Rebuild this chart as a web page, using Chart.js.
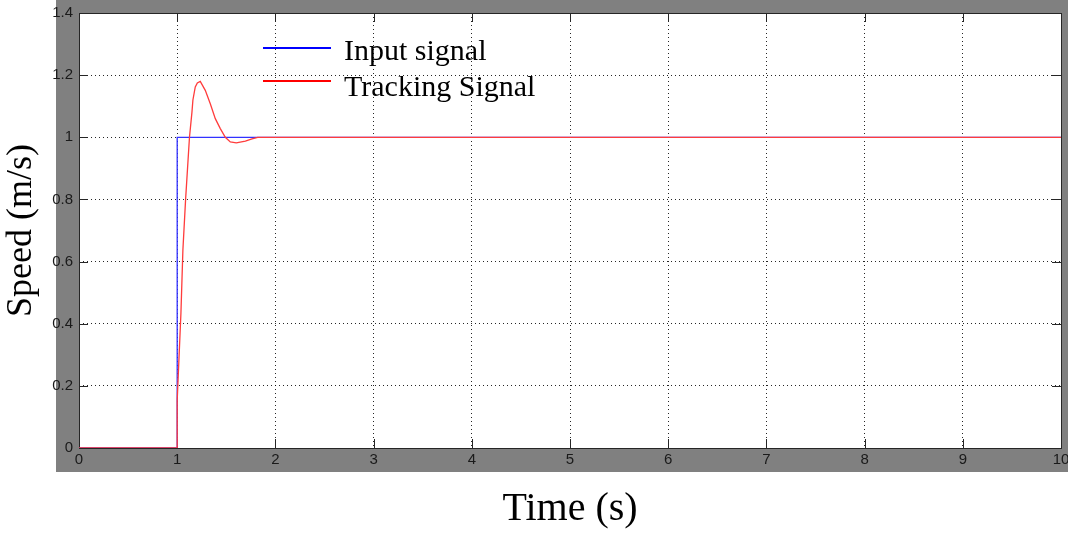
<!DOCTYPE html>
<html>
<head>
<meta charset="utf-8">
<script src="https://cdn.jsdelivr.net/npm/chart.js@4"></script>
<style>
  body { margin: 0; background: #fff; }
  #wrap { width: 1068px; height: 538px; }
</style>
</head>
<body>
<div id="wrap"><canvas id="speedChart" width="1068" height="538"></canvas></div>
<script>
// Input signal (step at t = 1 s)
const inputTime = [0, 1, 1, 10];
const inputSpeed = [0, 0, 1, 1];

// Tracking signal
const trackTime = [0, 1, 1, 1.013, 1.038, 1.058, 1.085, 1.125, 1.15, 1.16, 1.184, 1.205, 1.235, 1.286, 1.337, 1.388, 1.439, 1.49, 1.541, 1.602, 1.694, 1.762, 1.82, 10];
const trackSpeed = [0, 0, 0.154, 0.25, 0.434, 0.637, 0.797, 1.0, 1.08, 1.12, 1.162, 1.175, 1.18, 1.151, 1.108, 1.06, 1.028, 1.0, 0.985, 0.982, 0.988, 0.995, 1.0, 1.0];

const xTickLabels = ['0', '1', '2', '3', '4', '5', '6', '7', '8', '9', '10'];
const yTickLabels = ['0', '0.2', '0.4', '0.6', '0.8', '1', '1.2', '1.4'];

const toPoints = (xs, ys) => xs.map((x, i) => ({ x: x, y: ys[i] }));

// gray figure panel, white axes box, black frame with inward ticks
const framePlugin = {
  id: 'frame',
  beforeDraw(chart) {
    const { ctx, chartArea: a } = chart;
    ctx.save();
    ctx.fillStyle = '#fff';
    ctx.fillRect(0, 0, chart.width, chart.height);
    ctx.fillStyle = '#808080';
    ctx.fillRect(a.left - 23, 0, chart.width - a.left + 23, a.bottom + 24);
    ctx.fillStyle = '#fff';
    ctx.fillRect(a.left, a.top, a.right - a.left, a.bottom - a.top);
    ctx.restore();
  },
  beforeDatasetsDraw(chart) {
    const { ctx, chartArea: a, scales } = chart;
    const len = 9;
    ctx.save();
    ctx.strokeStyle = '#262626';
    ctx.lineWidth = 1;
    ctx.beginPath();
    scales.x.ticks.forEach(t => {
      const px = Math.round(scales.x.getPixelForValue(t.value)) + 0.5;
      ctx.moveTo(px, a.bottom); ctx.lineTo(px, a.bottom - len);
      ctx.moveTo(px, a.top); ctx.lineTo(px, a.top + len);
    });
    scales.y.ticks.forEach(t => {
      const py = Math.round(scales.y.getPixelForValue(t.value)) + 0.5;
      ctx.moveTo(a.left, py); ctx.lineTo(a.left + len, py);
      ctx.moveTo(a.right, py); ctx.lineTo(a.right - len, py);
    });
    ctx.stroke();
    ctx.strokeRect(Math.round(a.left) + 0.5, Math.round(a.top) + 0.5,
      Math.round(a.right - a.left), Math.round(a.bottom - a.top));
    ctx.restore();
  },
  afterDraw(chart) {
    // legend in the upper part of the axes
    const { ctx } = chart;
    const rows = [
      { ds: chart.data.datasets[0], lineY: 48, textY: 60 },
      { ds: chart.data.datasets[1], lineY: 81, textY: 96 }
    ];
    ctx.save();
    ctx.font = '30px "Liberation Serif", "Times New Roman", serif';
    ctx.textBaseline = 'alphabetic';
    ctx.textAlign = 'left';
    rows.forEach(r => {
      ctx.strokeStyle = r.ds.legendColor;
      ctx.lineWidth = 2;
      ctx.beginPath();
      ctx.moveTo(263, r.lineY);
      ctx.lineTo(331, r.lineY);
      ctx.stroke();
      ctx.fillStyle = '#000';
      ctx.fillText(r.ds.label, 344, r.textY);
    });
    ctx.restore();
  }
};

const tickFont = { family: '"Liberation Sans", Arial, sans-serif', size: 15 };

const config = {
  type: 'scatter',
  data: {
    datasets: [{
      label: 'Input signal',
      data: toPoints(inputTime, inputSpeed),
      borderColor: 'rgb(50, 50, 255)',
      legendColor: 'rgb(0, 0, 255)',
      borderWidth: 1.3,
      showLine: true,
      pointRadius: 0,
      tension: 0,
      order: 1
    }, {
      label: 'Tracking Signal',
      data: toPoints(trackTime, trackSpeed),
      borderColor: 'rgb(255, 60, 60)',
      legendColor: 'rgb(255, 0, 0)',
      borderWidth: 1.3,
      showLine: true,
      pointRadius: 0,
      tension: 0,
      order: 0
    }]
  },
  options: {
    responsive: false,
    animation: false,
    layout: { padding: { top: 13, right: 7, left: 0, bottom: 0 } },
    plugins: {
      legend: { display: false },
      tooltip: { enabled: false }
    },
    scales: {
      x: {
        type: 'linear',
        min: 0,
        max: 10,
        afterFit(scale) { scale.height = 90; scale.paddingLeft = 0; scale.paddingRight = 0; },
        ticks: {
          stepSize: 1,
          padding: 3,
          color: '#1a1a1a',
          font: tickFont,
          maxRotation: 0,
          callback: (v, i) => xTickLabels[i]
        },
        grid: { color: 'rgba(0,0,0,0.85)', drawTicks: false },
        border: { display: false, dash: [1, 3] },
        title: {
          display: true,
          text: 'Time (s)',
          color: '#000',
          font: { family: '"Liberation Serif", "Times New Roman", serif', size: 40 },
          padding: { top: 0, bottom: 5 }
        }
      },
      y: {
        min: 0,
        max: 1.4,
        afterFit(scale) { scale.width = 79; scale.paddingTop = 0; scale.paddingBottom = 0; },
        ticks: {
          stepSize: 0.2,
          padding: 6,
          color: '#1a1a1a',
          font: tickFont,
          callback: (v, i) => yTickLabels[i]
        },
        grid: { color: 'rgba(0,0,0,0.85)', drawTicks: false },
        border: { display: false, dash: [1, 3] },
        title: {
          display: true,
          text: 'Speed (m/s)',
          color: '#000',
          font: { family: '"Liberation Serif", "Times New Roman", serif', size: 36 },
          padding: 0
        }
      }
    }
  },
  plugins: [framePlugin]
};

const speedChart = new Chart(document.getElementById('speedChart'), config);
</script>
</body>
</html>
